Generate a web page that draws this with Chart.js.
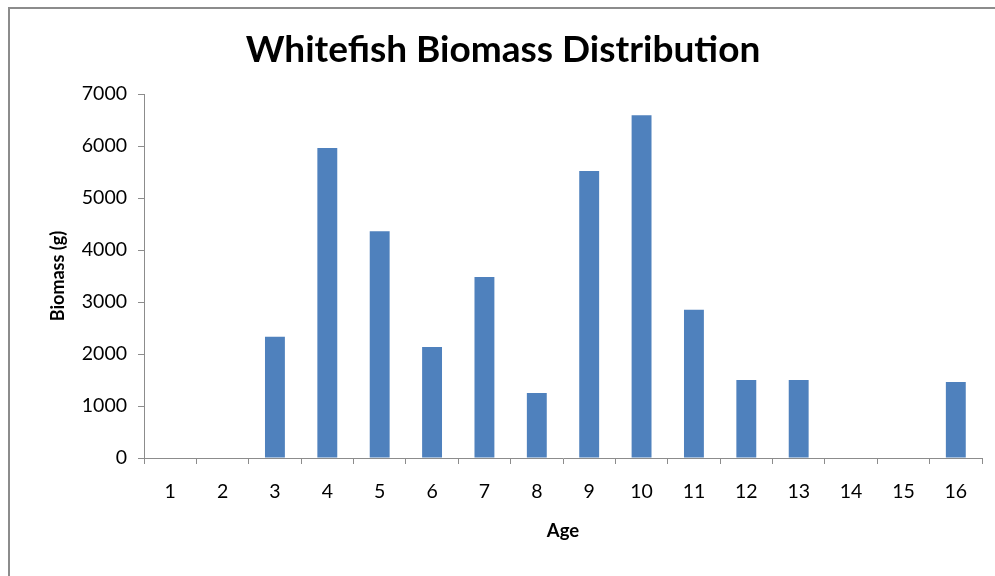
<!DOCTYPE html>
<html>
<head>
<meta charset="utf-8">
<script src="https://cdn.jsdelivr.net/npm/chart.js@4"></script>
<style>
    html, body { margin: 0; padding: 0; background: #fff; overflow: hidden; }
    #frame {
        position: absolute; left: 8px; top: 7px; width: 1000px; height: 600px;
        border-left: 2px solid #8c8c8c; border-top: 2px solid #8c8c8c;
    }
    #wrap { position: absolute; left: 0; top: 0; width: 995px; height: 576px; }
</style>
</head>
<body>
<div id="frame"></div>
<div id="wrap"><canvas id="biomassChart"></canvas></div>
<script>
const ages = ['1', '2', '3', '4', '5', '6', '7', '8', '9', '10', '11', '12', '13', '14', '15', '16'];
const biomass = [0, 0, 2330, 5960, 4360, 2135, 3480, 1250, 5520, 6590, 2850, 1500, 1500, 0, 0, 1460];
const yTicks = [0, 1000, 2000, 3000, 4000, 5000, 6000, 7000];

document.addEventListener('DOMContentLoaded', () => {
    const ctx = document.getElementById('biomassChart');
    const axisGrey = '#8c8c8c';

    new Chart(ctx, {
        type: 'bar',
        data: {
            labels: ages,
            datasets: [{
                label: 'Biomass',
                data: biomass,
                backgroundColor: '#4F81BD',
                categoryPercentage: 1,
                barPercentage: 0.38
            }]
        },
        options: {
            responsive: true,
            maintainAspectRatio: false,
            animation: false,
            layout: {
                padding: { left: 24, right: 13, top: 0, bottom: 0 }
            },
            plugins: {
                legend: { display: false },
                tooltip: { enabled: false },
                title: {
                    display: true,
                    text: 'Whitefish Biomass Distribution',
                    color: '#000',
                    font: { family: 'Lato', size: 37, weight: 'bold' },
                    padding: { top: 28, bottom: 21.6 }
                }
            },
            scales: {
                x: {
                    afterFit: (scale) => { scale.height = 118; },
                    grid: {
                        drawOnChartArea: false,
                        drawTicks: true,
                        tickLength: 6,
                        color: axisGrey
                    },
                    border: { color: axisGrey, width: 1 },
                    ticks: {
                        color: '#000',
                        padding: 16,
                        font: { family: 'Lato', size: 19.5 }
                    },
                    title: {
                        display: true,
                        text: 'Age',
                        color: '#000',
                        font: { family: 'Lato', size: 18.5, weight: 'bold' },
                        padding: { top: 0, bottom: 34 }
                    }
                },
                y: {
                    min: 0,
                    max: 7000,
                    afterFit: (scale) => { scale.width = 120; },
                    afterBuildTicks: (scale) => {
                        scale.ticks = yTicks.map(v => ({ value: v }));
                    },
                    grid: {
                        drawOnChartArea: false,
                        drawTicks: true,
                        tickLength: 6,
                        color: axisGrey
                    },
                    border: { color: axisGrey, width: 1 },
                    ticks: {
                        color: '#000',
                        padding: 11,
                        font: { family: 'Lato', size: 19.5 },
                        callback: (value) => String(value)
                    },
                    title: {
                        display: true,
                        text: 'Biomass (g)',
                        color: '#000',
                        font: { family: 'Lato', size: 18, weight: 'bold' },
                        padding: { top: 23, bottom: 0 }
                    }
                }
            }
        }
    });
});
</script>
</body>
</html>
